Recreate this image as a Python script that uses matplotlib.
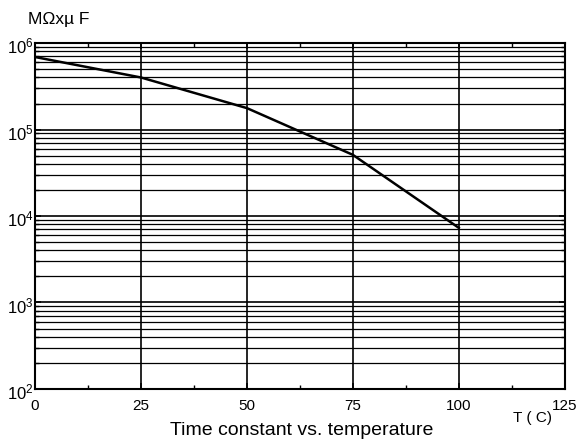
import numpy as np
import matplotlib.pyplot as plt
import matplotlib.transforms as mtransforms
from matplotlib.ticker import FixedLocator, LogLocator, NullFormatter

plt.rcParams['font.family'] = ['Liberation Sans', 'DejaVu Sans']
plt.rcParams['mathtext.fontset'] = 'custom'
plt.rcParams['mathtext.rm'] = 'Liberation Sans'
plt.rcParams['mathtext.it'] = 'Liberation Sans'

temp = [0, 25, 50, 75, 100]
tau = [6.9e5, 4.0e5, 1.77e5, 5.1e4, 7.3e3]
xticks = [0, 25, 50, 75, 100, 125]
yticks = [1e2, 1e3, 1e4, 1e5, 1e6]
ylabels = ['$\\mathrm{10^2}$', '$\\mathrm{10^3}$', '$\\mathrm{10^4}$',
           '$\\mathrm{10^5}$', '$\\mathrm{10^6}$']

fig = plt.figure(figsize=(5.86, 4.44), dpi=100)
ax = fig.add_axes([0.0597, 0.124, 0.904, 0.779])

ax.set_yscale('log')
ax.set_xlim(0, 125)
ax.set_ylim(1e2, 1e6)

ax.set_xticks(xticks)
ax.set_xticklabels([str(t) for t in xticks], fontsize=11)
ax.xaxis.set_minor_locator(FixedLocator([12.5, 37.5, 62.5, 87.5, 112.5]))
ax.set_yticks(yticks)
ax.set_yticklabels(ylabels, fontsize=12)
ax.yaxis.set_minor_locator(LogLocator(base=10, subs=np.arange(2, 10)))
ax.yaxis.set_minor_formatter(NullFormatter())

ax.tick_params(which='both', direction='in', top=True, right=True, color='black')
ax.tick_params(which='major', length=4, width=1.2)
ax.tick_params(axis='x', which='major', pad=7)
ax.tick_params(axis='y', which='major', pad=1)
ax.tick_params(which='minor', length=3, width=1)

# nudge the y labels a little below their ticks, as in the reference
shift = mtransforms.ScaledTranslation(0, -1.5 / 72, fig.dpi_scale_trans)
for lbl in ax.get_yticklabels():
    lbl.set_transform(lbl.get_transform() + shift)

ax.grid(True, which='major', axis='both', color='black', linewidth=1.2)
ax.grid(True, which='minor', axis='y', color='black', linewidth=0.9)

for s in ax.spines.values():
    s.set_linewidth(1.5)

ax.plot(temp, tau, color='black', linewidth=1.8, zorder=5)

fig.text(0.048, 0.955, 'MΩxµ F', fontsize=12.5, ha='left', va='center')
fig.text(0.908, 0.059, 'T ( C)', fontsize=11, ha='center', va='center')
fig.text(0.514, 0.031, 'Time constant vs. temperature', fontsize=14, ha='center', va='center')

fig.savefig('out.png', dpi=100)
